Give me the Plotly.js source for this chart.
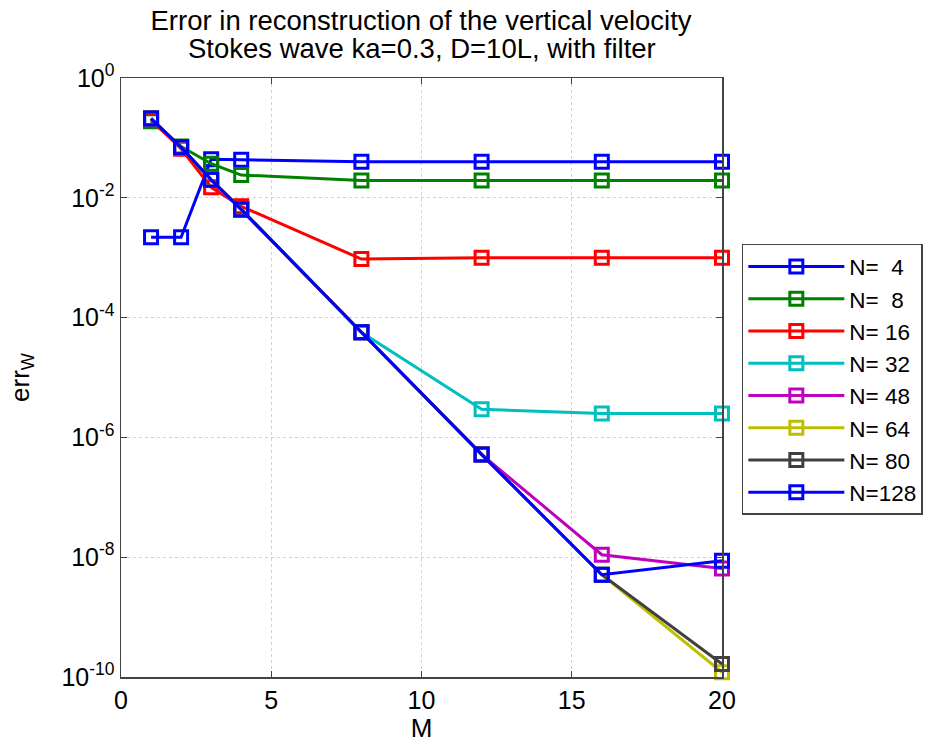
<!DOCTYPE html>
<html>
<head>
<meta charset="utf-8">
<script src="https://cdn.plot.ly/plotly-3.0.1.min.js"></script>
<style>html,body{margin:0;padding:0;background:#fff;}#chart{width:933px;height:747px;}</style>
</head>
<body>
<div id="chart"></div>
<script>
// M values (x)
const M = [1, 2, 3, 4, 8, 12, 16, 20];
// err_W per N
const errN4   = [2.2e-3, 2.2e-3, 4.4e-2, 4.3e-2, 4.0e-2, 4.0e-2, 4.0e-2, 4.0e-2];
const errN8   = [0.19, 0.072, 0.037, 0.024, 1.95e-2, 1.95e-2, 1.95e-2, 1.95e-2];
const errN16  = [0.2, 0.066, 0.015, 7.2e-3, 9.5e-4, 1.0e-3, 1.0e-3, 1.0e-3];
const errN32  = [0.21, 0.07, 0.02, 6.4e-3, 5.7e-5, 2.95e-6, 2.5e-6, 2.5e-6];
const errN48  = [0.21, 0.07, 0.02, 6.4e-3, 5.7e-5, 5.2e-7, 1.1e-8, 6.5e-9];
const errN64  = [0.21, 0.07, 0.02, 6.4e-3, 5.7e-5, 5.2e-7, 5.1e-9, 1.2e-10];
const errN80  = [0.21, 0.07, 0.02, 6.4e-3, 5.7e-5, 5.2e-7, 5.1e-9, 1.65e-10];
const errN128 = [0.21, 0.07, 0.02, 6.4e-3, 5.7e-5, 5.2e-7, 5.1e-9, 8.7e-9];
const seriesNames = ["N=\u00a0\u00a04", "N=\u00a0\u00a08", "N=\u00a016", "N=\u00a032", "N=\u00a048", "N=\u00a064", "N=\u00a080", "N=128"];
const seriesValues = [errN4, errN8, errN16, errN32, errN48, errN64, errN80, errN128];
const seriesColors = ["#0000ff", "#008000", "#ff0000", "#00bfbf", "#bf00bf", "#bfbf00", "#404040", "#0000ff"];
// y tick labels
const yTickVals = [1e-10, 1e-8, 1e-6, 1e-4, 1e-2, 1];
const yTickText = ["10<sup>-10</sup>", "10<sup>-8</sup>", "10<sup>-6</sup>", "10<sup>-4</sup>", "10<sup>-2</sup>", "10<sup>0</sup>"];

const FONT = "Liberation Sans, Arial, sans-serif";

const traces = seriesValues.map((vals, i) => ({
  x: M,
  y: vals,
  name: seriesNames[i],
  type: "scatter",
  mode: "lines+markers",
  cliponaxis: false,
  line: {color: seriesColors[i], width: 3},
  marker: {symbol: "square-open", size: 13, color: seriesColors[i], line: {color: seriesColors[i], width: 3}}
}));

const layout = {
  width: 933,
  height: 747,
  paper_bgcolor: "#ffffff",
  plot_bgcolor: "#ffffff",
  font: {family: FONT, size: 25, color: "#000"},
  margin: {l: 121, r: 211, t: 78, b: 70, autoexpand: false},
  title: {
    text: "Error in reconstruction of the vertical velocity",
    font: {family: FONT, size: 27.5, color: "#000"},
    x: 0.4513, xref: "container", xanchor: "center",
    y: 0.973, yref: "container", yanchor: "middle"
  },
  annotations: [{
    text: "Stokes wave ka=0.3, D=10L, with filter",
    xref: "paper", yref: "paper", x: 0.5, y: 1.05,
    xanchor: "center", yanchor: "middle", showarrow: false,
    font: {family: FONT, size: 27.5, color: "#000"}
  }],
  xaxis: {
    range: [0, 20],
    tickvals: [0, 5, 10, 15, 20],
    ticks: "inside", ticklen: 6, tickwidth: 1.2, tickcolor: "#444",
    showline: true, linecolor: "#444", linewidth: 1.5, mirror: "ticks",
    showgrid: true, gridcolor: "#d2d2d2", griddash: "dot", gridwidth: 1,
    zeroline: false,
    tickfont: {family: FONT, size: 25, color: "#000"},
    title: {text: "M", font: {family: FONT, size: 26, color: "#000"}, standoff: 0}
  },
  yaxis: {
    type: "log",
    range: [-10, 0],
    tickvals: yTickVals,
    ticktext: yTickText,
    ticks: "inside", ticklen: 6, tickwidth: 1.2, tickcolor: "#444",
    showline: true, linecolor: "#444", linewidth: 1.5, mirror: "ticks",
    showgrid: true, gridcolor: "#d2d2d2", griddash: "dot", gridwidth: 1,
    zeroline: false,
    tickfont: {family: FONT, size: 25, color: "#000"},
    title: {text: "err<sub>W</sub>", font: {family: FONT, size: 26, color: "#000"}, standoff: 24}
  },
  showlegend: true,
  legend: {
    x: 1.033, y: 0.723, xanchor: "left", yanchor: "top",
    bgcolor: "#ffffff", bordercolor: "#444", borderwidth: 1.5,
    font: {family: FONT, size: 22.5, color: "#000"},
    itemwidth: 96, tracegroupgap: 0
  }
};

Plotly.newPlot("chart", traces, layout, {displayModeBar: false, staticPlot: true});
</script>
</body>
</html>
